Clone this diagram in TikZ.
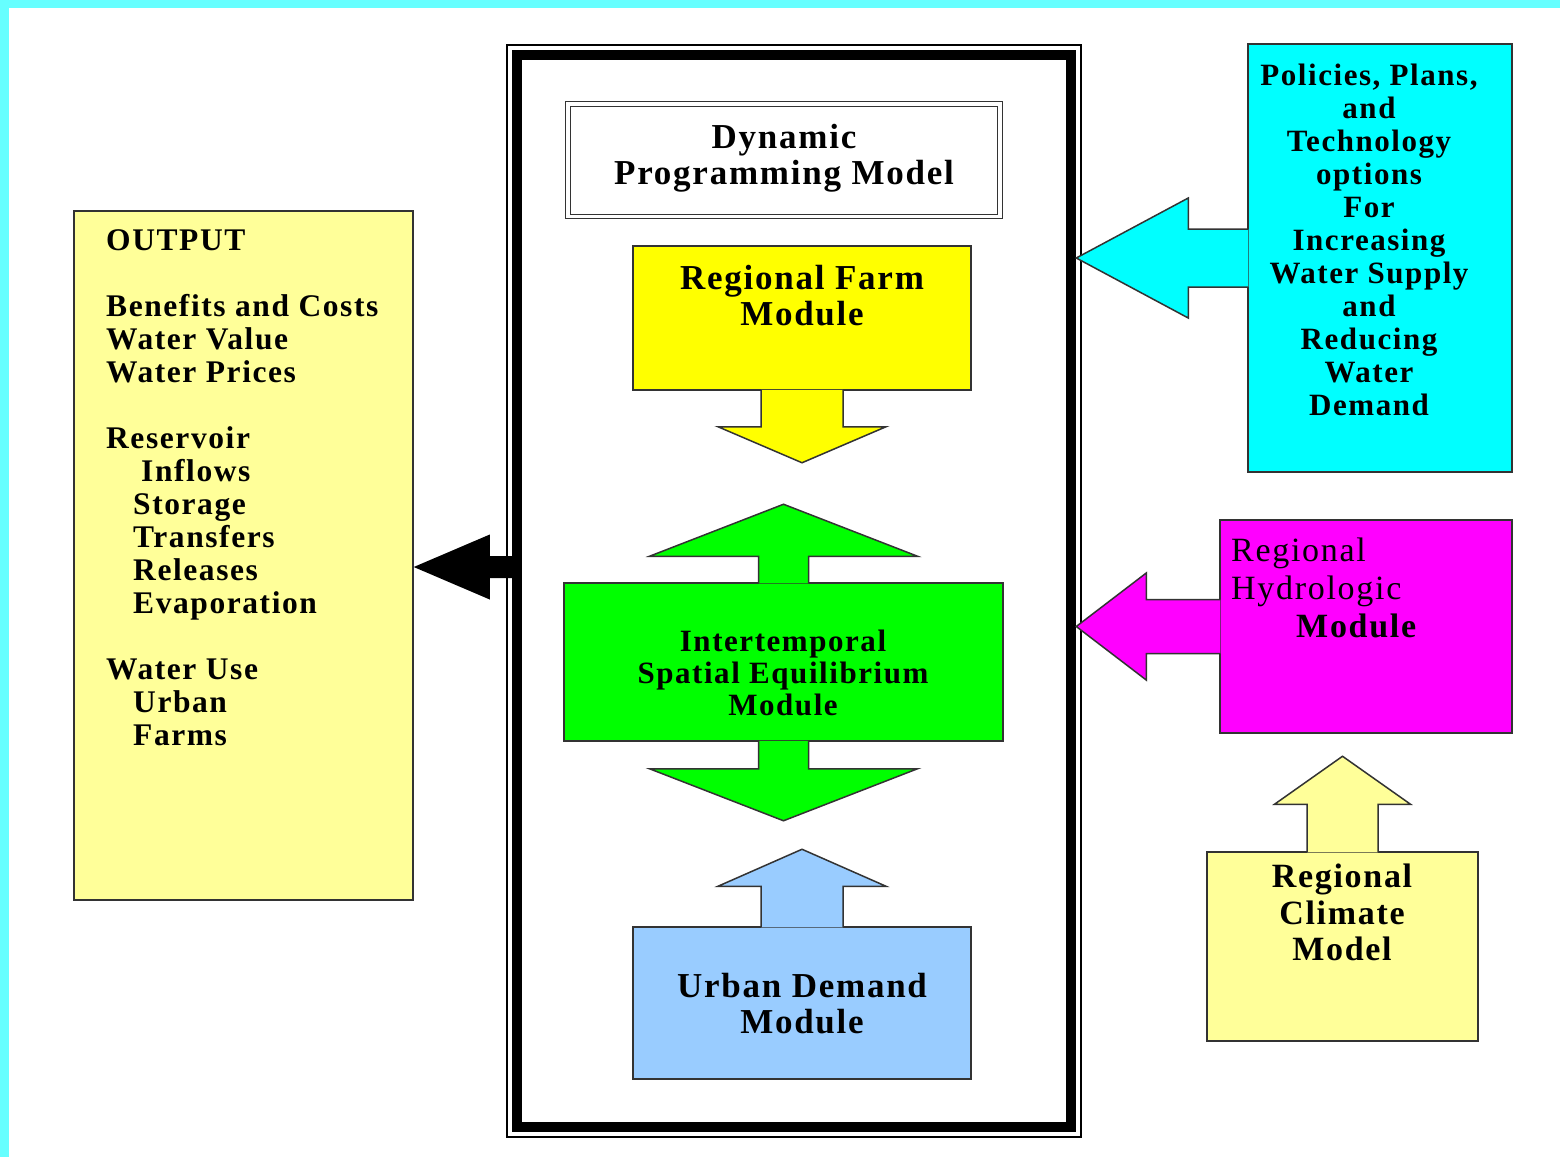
\documentclass[tikz,border=0pt]{standalone}
\usepackage{fontspec}
\setmainfont{Liberation Serif}[LetterSpace=5]
\usetikzlibrary{calc}

\definecolor{edgecyan}{HTML}{66FFFF}
\definecolor{palegold}{HTML}{FFFF99}
\definecolor{skyblue}{HTML}{99CCFF}
\definecolor{farmyellow}{HTML}{FFFF00}
\definecolor{isegreen}{HTML}{00FF00}
\definecolor{policycyan}{HTML}{00FFFF}
\definecolor{hydromagenta}{HTML}{FF00FF}

\tikzset{
    modbox/.style={draw=black!80, line width=1.5pt, inner sep=0pt},
    blockarrow/.style={draw=black!80, line width=1.5pt, line join=miter},
    bigtext/.style={font=\bfseries\fontsize{35}{36}\selectfont, align=center, inner sep=0pt},
}

\begin{document}
\begin{tikzpicture}[x=1pt, y=-1pt]
    \useasboundingbox (0,0) rectangle (1560,1157);
    \fill[edgecyan] (0,0) rectangle (1560,1157);
    \fill[white] (9,8) rectangle (1560,1157);

    % the model frame
    \node[draw, line width=10pt, minimum width=554, minimum height=1072, inner sep=0pt] (frame) at (794,591) {};
    \draw[line width=1.2pt] ($(frame.north west)+(-5,-5)$) rectangle ($(frame.south east)+(5,5)$);

    \node[draw=black!80, double, double distance=3.5pt, line width=1.2pt, minimum width=432, minimum height=112.5, inner sep=0pt] (dp) at (784,160.25) {};
    \node[bigtext] (dptext) at (784,158) {Dynamic\\Programming Model};

    % regional farm module
    \node[modbox, fill=farmyellow, minimum width=338, minimum height=144] (farm) at (802,318) {};
    \filldraw[blockarrow, fill=farmyellow] ($(farm.south)+(-41,-1)$) -- ++(0,37) -- ++(-43,0) -- ($(farm.south)+(0,72)$)
        -- ($(farm.south)+(84,36)$) -- ++(-43,0) -- ($(farm.south)+(41,-1)$);
    \node[bigtext] (farmtext) at (802,296) {Regional Farm\\Module};

    % equilibrium module
    \node[modbox, fill=isegreen, minimum width=439, minimum height=158] (ise) at (783.5,662) {};
    \filldraw[blockarrow, fill=isegreen] ($(ise.north)+(-25,1)$) -- ++(0,-27) -- ++(-109,0) -- ($(ise.north)+(0,-78)$)
        -- ($(ise.north)+(134,-26)$) -- ++(-109,0) -- ($(ise.north)+(25,1)$);
    \filldraw[blockarrow, fill=isegreen] ($(ise.south)+(-25,-1)$) -- ++(0,28) -- ++(-109,0) -- ($(ise.south)+(0,79)$)
        -- ($(ise.south)+(134,27)$) -- ++(-109,0) -- ($(ise.south)+(25,-1)$);
    \node[bigtext, font=\bfseries\fontsize{31}{32}\selectfont] (isetext) at (783,673) {Intertemporal\\Spatial Equilibrium\\Module};

    % urban demand module
    \node[modbox, fill=skyblue, minimum width=338, minimum height=152] (urban) at (802,1003) {};
    \filldraw[blockarrow, fill=skyblue] ($(urban.north)+(-41,1)$) -- ++(0,-41) -- ++(-43,0) -- ($(urban.north)+(0,-77)$)
        -- ($(urban.north)+(84,-40)$) -- ++(-43,0) -- ($(urban.north)+(41,1)$);
    \node[bigtext] (urbantext) at (802,1004) {Urban Demand\\Module};

    % policies
    \node[modbox, fill=policycyan, minimum width=264, minimum height=428] (policy) at (1380,258) {};
    \filldraw[blockarrow, fill=policycyan] ($(policy.west)+(1,-29)$) -- ++(-60,0) -- ++(0,-31) -- ($(policy.west)+(-171,0)$)
        -- ($(policy.west)+(-59,60)$) -- ++(0,-31) -- ($(policy.west)+(1,29)$);
    \node[bigtext, font=\bfseries\fontsize{31}{33}\selectfont] (policytext) at (1369,239.5)
        {Policies, Plans,\\and\\Technology\\options\\For\\Increasing\\Water Supply\\and\\Reducing\\Water\\Demand};

    % hydrologic module
    \node[modbox, fill=hydromagenta, minimum width=292, minimum height=213] (hydro) at (1366,626.5) {};
    \filldraw[blockarrow, fill=hydromagenta] ($(hydro.west)+(1,-27)$) -- ++(-74,0) -- ++(0,-26.5) -- ($(hydro.west)+(-143,0)$)
        -- ($(hydro.west)+(-73,53.5)$) -- ++(0,-26.5) -- ($(hydro.west)+(1,27)$);
    \node[font=\fontsize{34}{38}\selectfont, align=left, inner sep=0pt, anchor=west] (hydrotext) at (1231,588)
        {Regional\\Hydrologic\\\hspace*{65pt}\textbf{Module}};

    % climate model
    \node[modbox, fill=palegold, minimum width=271, minimum height=189] (climate) at (1342.5,946.5) {};
    \filldraw[blockarrow, fill=palegold] ($(climate.north)+(-35.5,1)$) -- ++(0,-48) -- ++(-32.5,0) -- ($(climate.north)+(0,-95)$)
        -- ($(climate.north)+(68,-47)$) -- ++(-32.5,0) -- ($(climate.north)+(35.5,1)$);
    \node[bigtext, font=\bfseries\fontsize{34}{36.5}\selectfont] (climatetext) at (1342,912.5) {Regional\\Climate\\Model};

    % output
    \node[modbox, fill=palegold, minimum width=339, minimum height=689] (output) at (243.5,555.5) {};
    \node[font=\bfseries\fontsize{31.5}{33}\selectfont, align=left, inner sep=0pt, anchor=west] (outputtext) at (106,488)
        {OUTPUT\\[33pt]Benefits and Costs\\Water Value\\Water Prices\\[33pt]Reservoir\\\hspace*{35pt}Inflows\\
         \hspace*{27pt}Storage\\\hspace*{27pt}Transfers\\\hspace*{27pt}Releases\\\hspace*{27pt}Evaporation\\[33pt]
         Water Use\\\hspace*{27pt}Urban\\\hspace*{27pt}Farms};
    \coordinate (outtip) at ($(output.east)+(0,11.5)$);
    \fill (outtip) -- ++(76,-32.5) -- ++(0,21.5) -- ($(frame.west |- outtip)+(3,-11)$) -- ++(0,22)
        -- ($(outtip)+(76,11)$) -- ++(0,21.5) -- cycle;
\end{tikzpicture}
\end{document}
